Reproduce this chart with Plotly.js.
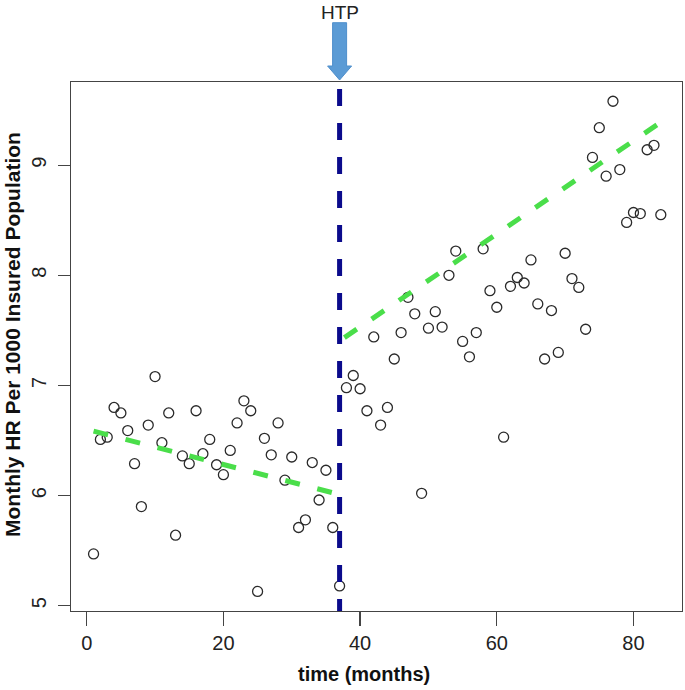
<!DOCTYPE html>
<html>
<head>
<meta charset="utf-8">
<script src="https://cdn.plot.ly/plotly-3.0.1.min.js"></script>
<style>html,body{margin:0;padding:0;background:#fff;}#chart{width:685px;height:690px;}</style>
</head>
<body>
<div id="chart"></div>
<script>
// ---- data ----
const months = [1,2,3,4,5,6,7,8,9,10,11,12,13,14,15,16,17,18,19,20,21,22,23,24,25,26,27,28,29,30,
  31,32,33,34,35,36,37,38,39,40,41,42,43,44,45,46,47,48,49,50,51,52,53,54,55,56,57,58,59,60,
  61,62,63,64,65,66,67,68,69,70,71,72,73,74,75,76,77,78,79,80,81,82,83,84];
const hrRate = [5.47,6.51,6.53,6.80,6.75,6.59,6.29,5.90,6.64,7.08,6.48,6.75,5.64,6.36,6.29,6.77,6.38,6.51,6.28,6.19,
  6.41,6.66,6.86,6.77,5.13,6.52,6.37,6.66,6.14,6.35,5.71,5.78,6.30,5.96,6.23,5.71,5.18,6.98,7.09,6.97,
  6.77,7.44,6.64,6.80,7.24,7.48,7.80,7.65,6.02,7.52,7.67,7.53,8.00,8.22,7.40,7.26,7.48,8.24,7.86,7.71,
  6.53,7.90,7.98,7.93,8.14,7.74,7.24,7.68,7.30,8.20,7.97,7.89,7.51,9.07,9.34,8.90,9.58,8.96,8.48,8.57,
  8.56,9.14,9.18,8.55];
const preTrendX = [1, 37];
const preTrendY = [6.585, 6.01];
const postTrendX = [37.7, 84];
const postTrendY = [7.434, 9.39];
const interventionMonth = 37;
const interventionLabel = 'HTP';
const xTicks = [0, 20, 40, 60, 80];
const yTicks = [5, 6, 7, 8, 9];
const xTitle = 'time (months)';
const yTitle = 'Monthly HR Per 1000 Insured Population';

// ---- layout constants ----
const xRange = [-2.3, 87.1];
const yRange = [4.952, 9.755];
const FONT = 'Liberation Sans, Arial, sans-serif';
const px = (m) => (m - xRange[0]) / (xRange[1] - xRange[0]);
const ax = px(interventionMonth);
const plotW = 611, plotH = 529;
const shaftHalf = 7 / plotW, headHalf = 12 / plotW;
const yTop = 1 + (611 - 22.7 - 529) / plotH;   // arrow top
const yNeck = 1 + (611 - 66 - 529) / plotH;
const yTip = 1 + (611 - 80 - 529) / plotH;

const traces = [
  {
    x: months, y: hrRate, type: 'scatter', mode: 'markers',
    marker: {symbol: 'circle-open', size: 10, color: '#2a2a2a', line: {width: 1.3, color: '#2a2a2a'}},
    hoverinfo: 'x+y', showlegend: false
  },
  {
    x: preTrendX, y: preTrendY, type: 'scatter', mode: 'lines',
    line: {color: '#4ade4a', width: 5, dash: '15px,18px'}, showlegend: false
  },
  {
    x: postTrendX, y: postTrendY, type: 'scatter', mode: 'lines',
    line: {color: '#4ade4a', width: 5, dash: '15px,18px'}, showlegend: false
  }
];

const layout = {
  width: 685, height: 690,
  margin: {l: 71, r: 3, t: 82, b: 79},
  paper_bgcolor: '#fff', plot_bgcolor: '#fff',
  font: {family: FONT, color: '#222', size: 20},
  showlegend: false,
  xaxis: {
    range: xRange, tickvals: xTicks, ticktext: xTicks.map(String),
    ticks: 'outside', ticklen: 14, tickwidth: 1.3, tickcolor: '#444',
    showline: true, mirror: true, linecolor: '#444', linewidth: 1.3,
    showgrid: false, zeroline: false, tickfont: {size: 20, color: '#222'}
  },
  yaxis: {
    range: yRange, tickvals: yTicks, ticktext: yTicks.map(String),
    ticks: 'outside', ticklen: 12, tickwidth: 1.3, tickcolor: '#444',
    showline: true, mirror: true, linecolor: '#444', linewidth: 1.3,
    showgrid: false, zeroline: false, tickangle: -90, ticklabelstandoff: 4,
    tickfont: {size: 20, color: '#222'}
  },
  shapes: [
    {
      type: 'line', xref: 'x', yref: 'y',
      x0: interventionMonth, x1: interventionMonth, y0: 9.691, y1: yRange[0],
      line: {color: '#0b0b8c', width: 5, dash: '17px,17px'}
    },
    {
      type: 'path', xref: 'paper', yref: 'paper',
      path: `M ${ax - shaftHalf},${yTop} L ${ax + shaftHalf},${yTop} L ${ax + shaftHalf},${yNeck} ` +
            `L ${ax + headHalf},${yNeck} L ${ax},${yTip} L ${ax - headHalf},${yNeck} L ${ax - shaftHalf},${yNeck} Z`,
      fillcolor: '#5b9bd5', line: {color: '#4f8fcc', width: 1}
    }
  ],
  annotations: [
    {
      xref: 'paper', yref: 'paper', x: ax, y: 1 + (611 - 12 - 529) / plotH,
      text: interventionLabel, showarrow: false, xanchor: 'center', yanchor: 'middle',
      font: {family: FONT, size: 19, color: '#222'}
    },
    {
      xref: 'paper', yref: 'paper', x: (364 - 71) / plotW, y: (611 - 674) / plotH,
      text: xTitle, showarrow: false, xanchor: 'center', yanchor: 'middle',
      font: {family: FONT, size: 20, color: '#111', weight: 'bold'}
    },
    {
      xref: 'paper', yref: 'paper', x: (12 - 71) / plotW, y: (611 - 335) / plotH,
      text: yTitle, showarrow: false, xanchor: 'center', yanchor: 'middle', textangle: -90,
      font: {family: FONT, size: 21, color: '#111', weight: 'bold'}
    }
  ]
};

Plotly.newPlot('chart', traces, layout, {displayModeBar: false, staticPlot: true});
</script>
</body>
</html>
